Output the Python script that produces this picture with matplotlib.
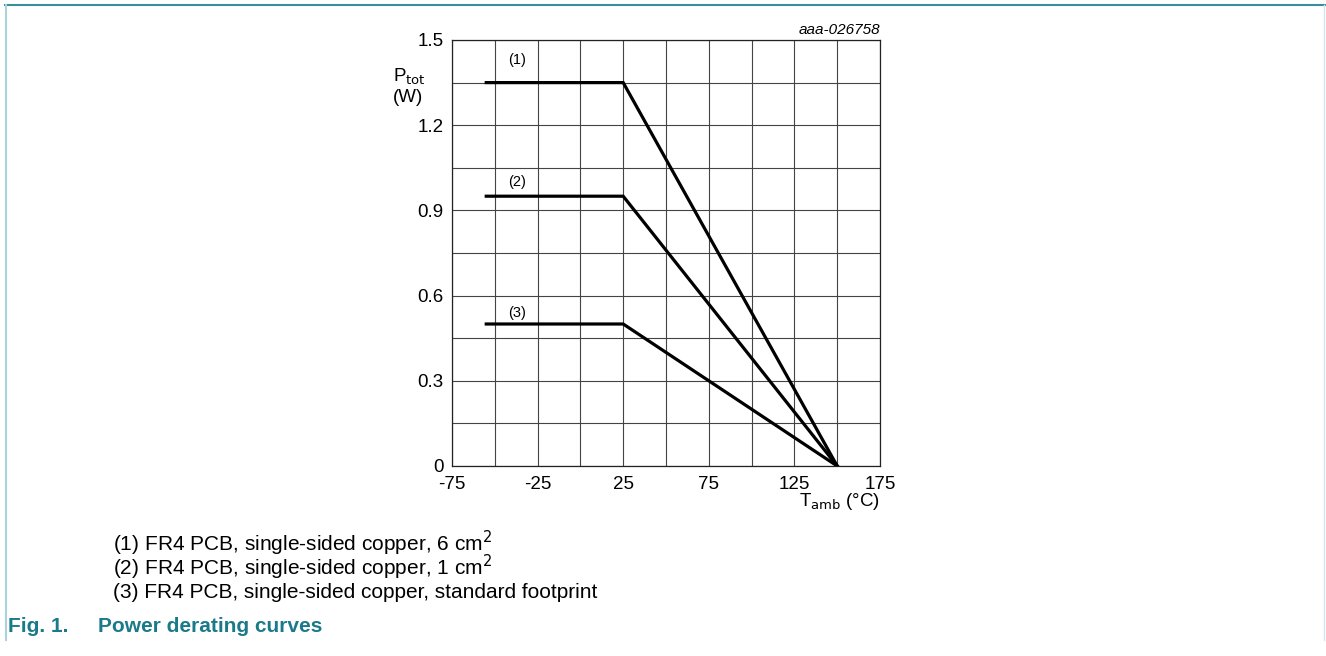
import numpy as np
import matplotlib.pyplot as plt
from matplotlib.lines import Line2D

plt.rcParams['font.family'] = ['Liberation Sans', 'DejaVu Sans']

# derating curves: flat up to 25 degC, then linear down to 0 W at 150 degC
temp = [-55, 25, 150]
ptot_1 = [1.35, 1.35, 0.0]
ptot_2 = [0.95, 0.95, 0.0]
ptot_3 = [0.50, 0.50, 0.0]
curve_labels = ['(1)', '(2)', '(3)']
label_x = -37
label_y = [1.43, 1.00, 0.54]

xticks = [-75, -25, 25, 75, 125, 175]
yticks = [0, 0.3, 0.6, 0.9, 1.2, 1.5]
ytick_labels = ['0', '0.3', '0.6', '0.9', '1.2', '1.5']

notes = [
    r'(1) FR4 PCB, single-sided copper, 6 cm$^2$',
    r'(2) FR4 PCB, single-sided copper, 1 cm$^2$',
    '(3) FR4 PCB, single-sided copper, standard footprint',
]

W, H = 1326, 656
fig = plt.figure(figsize=(W / 100, H / 100), dpi=100)
teal = '#1b7a8a'

# page frame
fig.add_artist(Line2D([5 / W, 1], [1 - 5 / H, 1 - 5 / H], color='#3d8d98', lw=1.5, transform=fig.transFigure))
fig.add_artist(Line2D([5.5 / W, 5.5 / W], [1 - 5 / H, 1 - 640 / H], color='#a8d2dc', lw=1.5, transform=fig.transFigure))
fig.add_artist(Line2D([1324 / W, 1324 / W], [1 - 5 / H, 1 - 640 / H], color='#d5e6ea', lw=1.0, transform=fig.transFigure))

ax = fig.add_axes([452 / W, 1 - 466 / H, 428 / W, 426 / H])
ax.set_xlim(-75, 175)
ax.set_ylim(0, 1.5)

# grid
for gx in np.arange(-75, 176, 25):
    ax.axvline(gx, color='#444444', lw=0.8, zorder=1)
for gy in np.arange(0, 1.51, 0.15):
    ax.axhline(gy, color='#444444', lw=0.8, zorder=1)

for p in (ptot_1, ptot_2, ptot_3):
    ax.plot(temp, p, color='black', lw=2.3, solid_joinstyle='miter', zorder=3)

for lab, ly in zip(curve_labels, label_y):
    ax.text(label_x, ly, lab, fontsize=10.5, ha='center', va='center')

for s in ax.spines.values():
    s.set_color('#222222')
    s.set_linewidth(0.9)

ax.set_xticks(xticks)
ax.set_xticklabels([str(t) for t in xticks], fontsize=13.5)
ax.set_yticks(yticks)
ax.set_yticklabels(ytick_labels, fontsize=13.5)
ax.tick_params(axis='y', length=0, pad=6)
ax.tick_params(axis='x', length=0, pad=7)

# axis titles
ax.text(-0.138, 0.913, r'P$_{\mathrm{tot}}$', transform=ax.transAxes, fontsize=13.5, ha='left', va='center')
ax.text(-0.138, 0.866, '(W)', transform=ax.transAxes, fontsize=13.5, ha='left', va='center')
ax.text(1.0, -0.083, r'T$_{\mathrm{amb}}$ (°C)', transform=ax.transAxes, fontsize=13.5, ha='right', va='center')
ax.text(1.0, 1.008, 'aaa-026758', transform=ax.transAxes, fontsize=11, ha='right', va='bottom', style='italic')

# notes below chart
for i, n in enumerate(notes):
    fig.text(113 / W, 1 - (543 + i * 24.5) / H, n, fontsize=15, ha='left', va='center')

fig.text(8 / W, 1 - 626 / H, 'Fig. 1.', fontsize=15, fontweight='bold', color=teal, ha='left', va='center')
fig.text(98 / W, 1 - 626 / H, 'Power derating curves', fontsize=15, fontweight='bold', color=teal, ha='left', va='center')

fig.savefig('out.png', dpi=100)
